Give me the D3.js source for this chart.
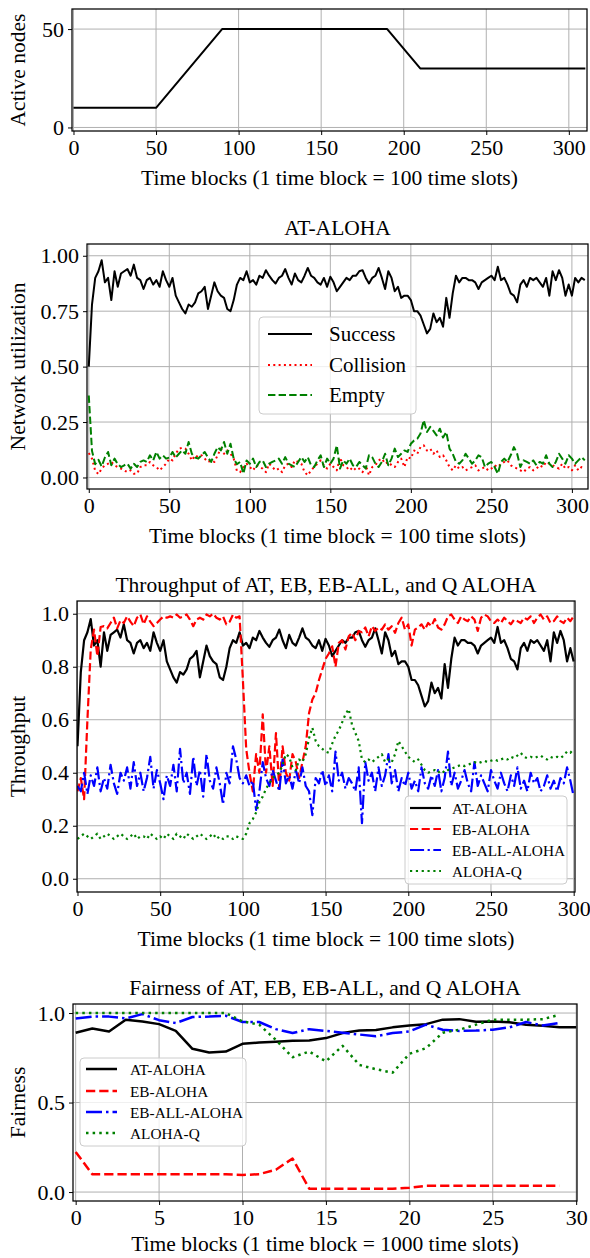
<!DOCTYPE html>
<html>
<head>
<meta charset="utf-8">
<script src="https://cdn.jsdelivr.net/npm/d3@7"></script>
<style>
  body { margin: 0; background: #fff; }
  svg text { font-family: "Liberation Serif", "DejaVu Serif", serif; fill: #000; }
</style>
</head>
<body>
<svg id="fig" width="590" height="1258"></svg>
<script>
// ---- data ----
// panel 1: number of active nodes (piecewise linear)
const nodeBlocks = [0, 50, 90, 190, 210, 310];
const nodeCounts = [10, 10, 50, 50, 30, 30];

// panel 2: AT-ALOHA utilization, one value every 2 time blocks (0..308)
const utilBlocks = d3.range(0, 310, 2);
const success = [
  0.50,0.78,0.90,0.93,0.98,0.88,0.90,0.80,0.93,0.86,
  0.92,0.93,0.94,0.91,0.96,0.90,0.89,0.85,0.89,0.90,
  0.87,0.89,0.86,0.93,0.89,0.86,0.90,0.82,0.79,0.76,
  0.74,0.78,0.77,0.79,0.83,0.84,0.86,0.76,0.82,0.88,
  0.84,0.82,0.81,0.76,0.75,0.80,0.87,0.90,0.89,0.93,
  0.88,0.89,0.87,0.91,0.90,0.935,0.91,0.89,0.875,0.90,
  0.91,0.94,0.90,0.87,0.92,0.89,0.88,0.91,0.945,0.91,
  0.90,0.88,0.87,0.90,0.86,0.905,0.88,0.84,0.86,0.88,
  0.90,0.89,0.91,0.91,0.93,0.935,0.90,0.875,0.90,0.91,
  0.945,0.90,0.85,0.93,0.90,0.84,0.86,0.81,0.82,0.82,
  0.80,0.75,0.75,0.73,0.69,0.65,0.67,0.74,0.70,0.72,
  0.68,0.81,0.72,0.83,0.91,0.88,0.90,0.90,0.89,0.89,
  0.88,0.85,0.88,0.89,0.90,0.91,0.89,0.95,0.89,0.90,
  0.87,0.83,0.82,0.79,0.87,0.89,0.86,0.90,0.89,0.90,
  0.88,0.86,0.90,0.82,0.93,0.89,0.935,0.90,0.82,0.87,
  0.82,0.90,0.88,0.90,0.89
];
const collision = [
  0.11,0.085,0.03,0.015,0.04,0.055,0.062,0.07,0.055,0.047,
  0.04,0.032,0.024,0.032,0.017,0.017,0.047,0.055,0.055,0.07,
  0.055,0.047,0.032,0.047,0.062,0.085,0.077,0.107,0.13,0.134,
  0.13,0.107,0.077,0.10,0.092,0.10,0.085,0.07,0.077,0.07,
  0.10,0.13,0.107,0.122,0.107,0.085,0.03,0.024,0.047,0.062,
  0.047,0.032,0.055,0.047,0.04,0.024,0.062,0.047,0.032,0.04,
  0.024,0.055,0.062,0.047,0.077,0.07,0.062,0.024,0.01,0.032,
  0.047,0.062,0.077,0.055,0.04,0.062,0.047,0.032,0.09,0.055,
  0.047,0.032,0.047,0.032,0.04,0.024,0.055,0.01,0.047,0.055,
  0.077,0.085,0.062,0.07,0.055,0.047,0.07,0.085,0.047,0.092,
  0.085,0.122,0.107,0.137,0.145,0.122,0.13,0.107,0.122,0.092,
  0.10,0.077,0.047,0.032,0.055,0.04,0.047,0.032,0.04,0.047,
  0.055,0.032,0.04,0.047,0.032,0.04,0.055,0.047,0.062,0.07,
  0.077,0.055,0.047,0.04,0.032,0.024,0.04,0.047,0.032,0.04,
  0.055,0.047,0.07,0.062,0.055,0.047,0.04,0.062,0.04,0.047,
  0.032,0.055,0.032,0.047,0.04
];
const empty = [
  0.37,0.12,0.06,0.08,0.05,0.09,0.115,0.055,0.085,0.06,
  0.047,0.055,0.062,0.04,0.062,0.047,0.07,0.077,0.07,0.10,
  0.077,0.115,0.085,0.10,0.085,0.09,0.115,0.09,0.107,0.122,
  0.107,0.16,0.107,0.09,0.085,0.10,0.115,0.09,0.07,0.107,
  0.137,0.122,0.16,0.107,0.152,0.085,0.06,0.07,0.017,0.077,
  0.062,0.085,0.047,0.07,0.077,0.047,0.062,0.07,0.077,0.085,
  0.062,0.092,0.062,0.055,0.047,0.07,0.092,0.07,0.092,0.055,
  0.047,0.077,0.10,0.047,0.085,0.062,0.085,0.145,0.04,0.077,
  0.062,0.085,0.055,0.047,0.07,0.055,0.04,0.10,0.092,0.062,
  0.047,0.07,0.107,0.055,0.085,0.13,0.092,0.107,0.122,0.115,
  0.152,0.167,0.175,0.198,0.258,0.205,0.228,0.21,0.19,0.22,
  0.18,0.205,0.13,0.107,0.07,0.062,0.077,0.107,0.085,0.062,
  0.077,0.10,0.092,0.047,0.062,0.07,0.047,0.017,0.07,0.085,
  0.07,0.10,0.137,0.107,0.047,0.077,0.07,0.062,0.077,0.055,
  0.07,0.062,0.10,0.062,0.047,0.07,0.107,0.085,0.062,0.10,
  0.085,0.062,0.077,0.092,0.077
];

// panel 3: throughput, one value every 2 time blocks (0..300); AT-ALOHA reuses `success`
const thrBlocks = d3.range(0, 301, 2);
const ebAloha = [
  0.33,0.38,0.30,0.60,0.865,0.94,0.84,0.95,0.953,0.945,
  0.965,0.985,0.945,0.975,0.965,0.99,0.97,0.953,0.985,0.997,
  0.96,0.99,0.97,0.953,0.965,0.978,0.99,0.985,0.99,0.985,
  0.997,0.985,0.99,0.997,0.978,0.953,0.978,0.985,0.978,0.997,
  0.99,1.0,0.985,0.978,0.99,0.96,0.97,0.997,0.985,0.99,
  0.75,0.49,0.40,0.33,0.47,0.40,0.62,0.40,0.50,0.35,
  0.55,0.34,0.50,0.40,0.37,0.47,0.44,0.38,0.44,0.50,
  0.625,0.676,0.70,0.75,0.79,0.83,0.85,0.877,0.80,0.89,
  0.90,0.865,0.915,0.928,0.90,0.935,0.93,0.948,0.915,0.953,
  0.935,0.948,0.94,0.96,0.94,0.953,0.928,0.965,0.985,0.94,
  0.96,0.88,0.94,0.948,0.96,0.94,0.965,0.953,0.98,0.948,
  0.94,0.96,0.99,0.997,0.978,0.965,0.99,0.978,0.972,0.99,
  0.978,0.935,0.985,0.997,0.99,0.972,0.965,0.978,0.965,0.985,
  0.972,0.96,0.978,0.972,0.965,0.985,0.978,0.99,0.965,0.985,
  0.997,0.978,0.99,0.965,0.972,0.99,0.972,0.965,0.985,0.972,
  0.99
];
const ebAllAloha = [
  0.35,0.33,0.40,0.32,0.39,0.35,0.42,0.33,0.38,0.34,
  0.43,0.36,0.32,0.40,0.37,0.42,0.34,0.44,0.35,0.40,
  0.33,0.38,0.46,0.34,0.41,0.36,0.30,0.39,0.35,0.43,
  0.33,0.49,0.36,0.40,0.32,0.46,0.35,0.41,0.31,0.47,
  0.37,0.34,0.42,0.36,0.28,0.40,0.36,0.50,0.45,0.38,
  0.36,0.39,0.35,0.37,0.26,0.33,0.44,0.38,0.35,0.41,
  0.37,0.33,0.45,0.36,0.39,0.34,0.41,0.36,0.42,0.35,
  0.33,0.24,0.38,0.36,0.41,0.35,0.39,0.33,0.48,0.37,
  0.40,0.34,0.38,0.36,0.33,0.42,0.21,0.44,0.37,0.40,
  0.33,0.42,0.35,0.39,0.47,0.36,0.41,0.33,0.38,0.35,
  0.40,0.34,0.37,0.33,0.42,0.36,0.34,0.39,0.35,0.41,
  0.33,0.38,0.48,0.35,0.40,0.34,0.37,0.41,0.36,0.33,
  0.44,0.35,0.39,0.36,0.33,0.41,0.37,0.34,0.40,0.36,
  0.33,0.39,0.35,0.42,0.34,0.37,0.33,0.40,0.36,0.38,
  0.33,0.35,0.39,0.34,0.37,0.33,0.38,0.36,0.42,0.37,
  0.31
];
const alohaQ = [
  0.15,0.16,0.17,0.16,0.15,0.16,0.17,0.15,0.16,0.17,
  0.16,0.15,0.16,0.17,0.16,0.15,0.16,0.17,0.15,0.16,
  0.16,0.15,0.17,0.16,0.15,0.16,0.15,0.17,0.16,0.15,
  0.17,0.16,0.15,0.17,0.16,0.15,0.16,0.17,0.16,0.15,
  0.16,0.17,0.15,0.16,0.15,0.16,0.16,0.15,0.16,0.155,
  0.15,0.17,0.21,0.225,0.25,0.29,0.31,0.34,0.36,0.38,
  0.39,0.40,0.43,0.47,0.46,0.42,0.41,0.45,0.44,0.47,
  0.53,0.57,0.52,0.50,0.49,0.48,0.475,0.51,0.54,0.56,
  0.59,0.62,0.64,0.58,0.55,0.52,0.45,0.44,0.45,0.44,
  0.45,0.46,0.47,0.44,0.45,0.44,0.47,0.52,0.50,0.48,
  0.46,0.45,0.44,0.45,0.43,0.41,0.40,0.405,0.41,0.40,
  0.41,0.40,0.41,0.415,0.42,0.425,0.43,0.425,0.43,0.435,
  0.44,0.435,0.44,0.445,0.44,0.445,0.45,0.445,0.45,0.455,
  0.45,0.46,0.455,0.465,0.475,0.46,0.455,0.46,0.455,0.46,
  0.465,0.455,0.45,0.46,0.455,0.46,0.455,0.465,0.48,0.475,
  0.49
];

// panel 4: fairness per 1000-slot block
const fairBlocksAT = d3.range(0, 31);
const fairBlocks = d3.range(0, 30);
const fairAT = [0.89,0.914,0.897,0.963,0.953,0.938,0.90,0.80,0.78,0.785,0.828,0.835,0.84,0.845,0.847,
  0.86,0.888,0.903,0.905,0.92,0.93,0.938,0.963,0.966,0.951,0.953,0.948,0.935,0.929,0.92,0.92];
const fairEB = [0.224,0.099,0.099,0.099,0.099,0.099,0.099,0.099,0.099,0.099,0.095,0.10,0.125,0.187,0.019,
  0.019,0.019,0.019,0.019,0.019,0.024,0.035,0.035,0.035,0.035,0.035,0.035,0.035,0.035,0.035];
const fairEBALL = [0.97,0.98,0.98,0.97,0.994,0.96,0.944,0.978,0.98,0.985,0.95,0.95,0.91,0.888,0.91,
  0.90,0.89,0.88,0.87,0.888,0.897,0.935,0.907,0.90,0.902,0.907,0.92,0.95,0.93,0.944];
const fairQ = [1,1,1,1,1,1,1,1,1,1,0.953,0.935,0.85,0.753,0.785,0.73,0.817,0.71,0.686,0.667,
  0.772,0.804,0.89,0.907,0.935,0.963,0.963,0.963,0.966,0.99];

const xlabel100 = "Time blocks (1 time block = 100 time slots)";
const xlabel1000 = "Time blocks (1 time block = 1000 time slots)";

// ---- drawing ----
const svg = d3.select("#fig");
const TICK_FONT = 22;
const LABEL_FONT = 21.5;
const TITLE_FONT = 21.5;
const GRID = "#b0b0b0";

// matplotlib-like dash patterns scaled by line width
const dashed = lw => [3.7 * lw, 1.6 * lw].join(",");
const dotted = lw => [1 * lw, 1.65 * lw].join(",");
const dashdot = lw => [6.4 * lw, 1.6 * lw, 1 * lw, 1.6 * lw].join(",");

function makeAxes(cfg) {
  const g = svg.append("g");
  const x = d3.scaleLinear().domain(cfg.xDomain).range([cfg.left, cfg.right]);
  const y = d3.scaleLinear().domain(cfg.yDomain).range([cfg.bottom, cfg.top]);

  // grid
  g.append("g").selectAll("line").data(cfg.xTicks).join("line")
    .attr("x1", d => x(d)).attr("x2", d => x(d))
    .attr("y1", cfg.top).attr("y2", cfg.bottom)
    .attr("stroke", GRID).attr("stroke-width", 1);
  g.append("g").selectAll("line").data(cfg.yTicks).join("line")
    .attr("y1", d => y(d)).attr("y2", d => y(d))
    .attr("x1", cfg.left).attr("x2", cfg.right)
    .attr("stroke", GRID).attr("stroke-width", 1);

  const clipId = "clip-" + cfg.name;
  svg.append("clipPath").attr("id", clipId).append("rect")
    .attr("x", cfg.left).attr("y", cfg.top)
    .attr("width", cfg.right - cfg.left).attr("height", cfg.bottom - cfg.top);
  const plot = g.append("g").attr("clip-path", `url(#${clipId})`);

  const top = g.append("g"); // frame + axes drawn over lines
  return { g, plot, top, x, y, cfg };
}

function finishAxes(ax) {
  const { cfg, x, y, top } = ax;
  top.append("rect")
    .attr("x", cfg.left).attr("y", cfg.top)
    .attr("width", cfg.right - cfg.left).attr("height", cfg.bottom - cfg.top)
    .attr("fill", "none").attr("stroke", "#000").attr("stroke-width", 1.25);

  const xa = top.append("g").attr("transform", `translate(0,${cfg.bottom})`)
    .call(d3.axisBottom(x).tickValues(cfg.xTicks).tickSize(4).tickPadding(4).tickSizeOuter(0));
  const ya = top.append("g").attr("transform", `translate(${cfg.left},0)`)
    .call(d3.axisLeft(y).tickValues(cfg.yTicks).tickFormat(d3.format(cfg.yFormat))
      .tickSize(4).tickPadding(4).tickSizeOuter(0));
  [xa, ya].forEach(a => {
    a.attr("font-family", null).attr("font-size", null);
    a.select(".domain").remove();
    a.selectAll(".tick line").attr("stroke", "#000").attr("stroke-width", 1);
    a.selectAll(".tick text").attr("font-size", TICK_FONT).attr("fill", "#000");
  });

  top.append("text")
    .attr("x", (cfg.left + cfg.right) / 2).attr("y", cfg.bottom + (cfg.xLabelGap || 54))
    .attr("text-anchor", "middle").attr("font-size", LABEL_FONT)
    .text(cfg.xLabel);
  top.append("text")
    .attr("transform", `translate(18,${(cfg.top + cfg.bottom) / 2}) rotate(-90)`)
    .attr("text-anchor", "middle").attr("dominant-baseline", "central")
    .attr("font-size", LABEL_FONT)
    .text(cfg.yLabel);
  if (cfg.title) {
    top.append("text")
      .attr("x", (cfg.left + cfg.right) / 2).attr("y", cfg.top - 9)
      .attr("text-anchor", "middle").attr("font-size", TITLE_FONT)
      .text(cfg.title);
  }
}

function drawLine(ax, xs, ys, s) {
  const pts = xs.map((t, i) => [t, ys[i]]);
  ax.plot.append("path").datum(pts)
    .attr("d", d3.line().x(d => ax.x(d[0])).y(d => ax.y(d[1])))
    .attr("fill", "none")
    .attr("stroke", s.color)
    .attr("stroke-width", s.width)
    .attr("stroke-dasharray", s.dash || null)
    .attr("stroke-linejoin", "round");
}

function legend(ax, box, items) {
  const lg = svg.append("g");
  lg.append("rect")
    .attr("x", box.x0).attr("y", box.y0)
    .attr("width", box.x1 - box.x0).attr("height", box.y1 - box.y0)
    .attr("rx", 4).attr("ry", 4)
    .attr("fill", "#fff").attr("fill-opacity", 0.8)
    .attr("stroke", "#cccccc").attr("stroke-width", 1);
  items.forEach((it, i) => {
    const yy = box.rows[i];
    lg.append("line")
      .attr("x1", box.s0).attr("x2", box.s1).attr("y1", yy).attr("y2", yy)
      .attr("stroke", it.color).attr("stroke-width", it.width)
      .attr("stroke-dasharray", it.dash || null);
    lg.append("text")
      .attr("x", box.tx).attr("y", yy)
      .attr("dominant-baseline", "central")
      .attr("font-size", box.font)
      .text(it.label);
  });
}

// panel 1
const ax1 = makeAxes({
  name: "nodes", left: 72, right: 587, top: 9, bottom: 131,
  xDomain: [-0.9, 311], yDomain: [-1.8, 60.2],
  xTicks: [0, 50, 100, 150, 200, 250, 300], yTicks: [0, 50], yFormat: "d",
  xLabel: xlabel100, yLabel: "Active nodes"
});
drawLine(ax1, nodeBlocks, nodeCounts, { color: "#000", width: 2 });
finishAxes(ax1);

// panel 2
const ax2 = makeAxes({
  name: "util", left: 87, right: 588, top: 244, bottom: 489,
  xDomain: [-1.1, 310], yDomain: [-0.052, 1.053],
  xTicks: [0, 50, 100, 150, 200, 250, 300], yTicks: [0, 0.25, 0.5, 0.75, 1], yFormat: ".2f",
  xLabel: xlabel100, yLabel: "Network utilization", title: "AT-ALOHA"
});
const s2 = [
  { label: "Success", color: "#000", width: 2 },
  { label: "Collision", color: "#ff0000", width: 2, dash: dotted(2) },
  { label: "Empty", color: "#008000", width: 2, dash: dashed(2) }
];
drawLine(ax2, utilBlocks, success, s2[0]);
drawLine(ax2, utilBlocks, collision, s2[1]);
drawLine(ax2, utilBlocks, empty, s2[2]);
finishAxes(ax2);
legend(ax2, { x0: 259, x1: 416, y0: 317, y1: 414, rows: [334, 365, 395], s0: 268, s1: 312, tx: 329, font: 21 }, s2);

// panel 3
const ax3 = makeAxes({
  name: "thr", left: 77, right: 575, top: 601, bottom: 892,
  xDomain: [-0.3, 300.8], yDomain: [-0.05, 1.048],
  xTicks: [0, 50, 100, 150, 200, 250, 300], yTicks: [0, 0.2, 0.4, 0.6, 0.8, 1.0], yFormat: ".1f",
  xLabel: xlabel100, yLabel: "Throughput", title: "Throughput of AT, EB, EB-ALL, and Q ALOHA"
});
const LW3 = 2.2;
const s3 = [
  { label: "AT-ALOHA", color: "#000", width: LW3 },
  { label: "EB-ALOHA", color: "#ff0000", width: LW3, dash: dashed(LW3) },
  { label: "EB-ALL-ALOHA", color: "#0000ff", width: LW3, dash: dashdot(LW3) },
  { label: "ALOHA-Q", color: "#008000", width: LW3, dash: dotted(LW3) }
];
drawLine(ax3, thrBlocks, success.slice(0, thrBlocks.length), s3[0]);
drawLine(ax3, thrBlocks, ebAloha, s3[1]);
drawLine(ax3, thrBlocks, ebAllAloha, s3[2]);
drawLine(ax3, thrBlocks, alohaQ, s3[3]);
finishAxes(ax3);
legend(ax3, { x0: 405, x1: 567, y0: 796, y1: 884, rows: [808, 829, 850, 871], s0: 410, s1: 441, tx: 452, font: 15.3 }, s3);

// panel 4
const ax4 = makeAxes({
  name: "fair", left: 73, right: 577, top: 1004, bottom: 1201, xLabelGap: 50,
  xDomain: [-0.16, 30.05], yDomain: [-0.05, 1.0505],
  xTicks: [0, 5, 10, 15, 20, 25, 30], yTicks: [0, 0.5, 1.0], yFormat: ".1f",
  xLabel: xlabel1000, yLabel: "Fairness", title: "Fairness of AT, EB, EB-ALL, and Q ALOHA"
});
const LW4 = 2.5;
const s4 = [
  { label: "AT-ALOHA", color: "#000", width: LW4 },
  { label: "EB-ALOHA", color: "#ff0000", width: LW4, dash: dashed(LW4) },
  { label: "EB-ALL-ALOHA", color: "#0000ff", width: LW4, dash: dashdot(LW4) },
  { label: "ALOHA-Q", color: "#008000", width: LW4, dash: dotted(LW4) }
];
drawLine(ax4, fairBlocksAT, fairAT, s4[0]);
drawLine(ax4, fairBlocks, fairEB, s4[1]);
drawLine(ax4, fairBlocks, fairEBALL, s4[2]);
drawLine(ax4, fairBlocks, fairQ, s4[3]);
finishAxes(ax4);
legend(ax4, { x0: 80, x1: 246, y0: 1058, y1: 1146, rows: [1069, 1091, 1112, 1133], s0: 86, s1: 117, tx: 130, font: 15.3 }, s4);
</script>
</body>
</html>
